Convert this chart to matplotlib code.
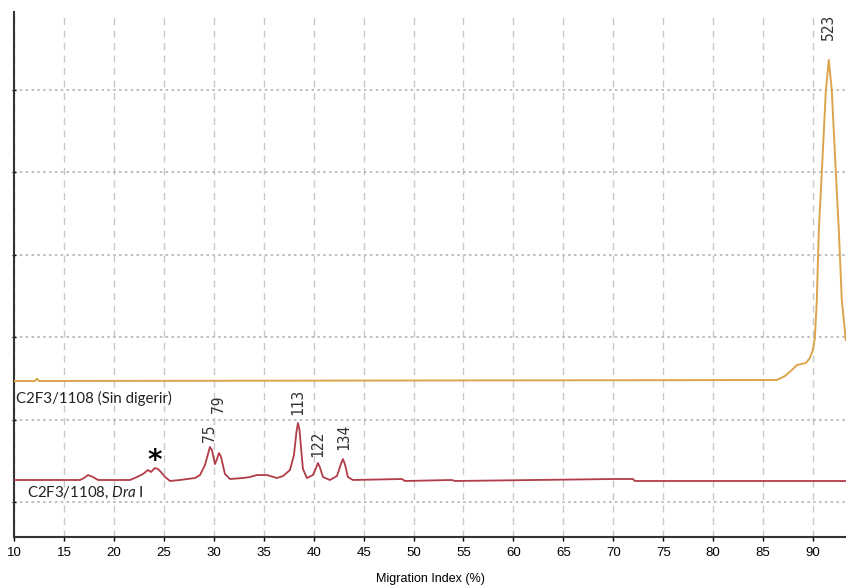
import matplotlib
matplotlib.use("Agg")
import matplotlib.pyplot as plt

# Undigested sample trace (migration index %, signal)
undigested_x = [10.0, 12.1, 12.3, 12.5, 86.38, 87.18, 87.88, 88.38, 89.28, 89.68,
                89.98, 90.18, 90.38, 90.58, 90.88, 91.28, 91.58, 91.88, 92.28,
                92.58, 92.88, 93.28]
undigested_y = [246.7, 246.7, 249.5, 246.7, 247.9, 252.7, 260.0, 266.0, 268.5, 274.5,
                284.0, 298.8, 344.8, 429.7, 500.0, 598.2, 635.8, 598.2, 500.0,
                429.7, 344.8, 296.4]

# DraI digest trace
digest_x = [10.0, 16.61, 17.01, 17.41, 17.91, 18.41, 21.61, 22.31, 22.91, 23.41,
            23.71, 24.11, 24.41, 24.71, 25.12, 25.62, 26.62, 28.12, 28.62, 29.12,
            29.42, 29.62, 29.82, 30.12, 30.32, 30.52, 30.72, 31.12, 31.62, 32.92,
            33.62, 34.32, 35.33, 36.33, 36.93, 37.63, 38.03, 38.28, 38.43, 38.58,
            38.78, 38.93, 39.33, 39.93, 40.23, 40.43, 40.63, 40.93, 41.63, 42.33,
            42.73, 42.93, 43.13, 43.43, 43.93, 48.84, 49.14, 53.84, 54.14, 70.16,
            71.96, 72.16, 93.28]
digest_y = [126.7, 126.7, 129.1, 132.7, 130.3, 126.7, 126.7, 130.3, 133.9, 138.8,
            136.4, 141.2, 140.0, 136.4, 130.3, 125.5, 126.7, 129.1, 132.7, 144.8,
            158.0, 166.7, 163.0, 146.0, 152.0, 159.4, 155.0, 134.0, 127.9, 129.1,
            130.3, 132.7, 132.7, 129.1, 131.5, 138.8, 157.0, 185.0, 195.8, 188.0,
            160.0, 140.0, 129.1, 132.7, 141.0, 147.3, 142.0, 130.3, 126.7, 131.5,
            146.0, 152.1, 146.0, 130.3, 126.7, 127.9, 125.5, 126.7, 125.5, 127.9,
            127.9, 125.5, 125.5]

# Fragment sizes (bp) and where they are written
size_labels = ["523", "75", "79", "113", "122", "134"]
size_x = [91.58, 29.62, 30.52, 38.43, 40.43, 42.98]
size_y = [660.0, 172.7, 207.9, 205.5, 154.5, 163.0]

x_ticks = list(range(10, 95, 5))
y_grid = [100, 200, 300, 400, 500, 600]

plt.rcParams["mathtext.fontset"] = "custom"
plt.rcParams["mathtext.it"] = "Lato:italic"
plt.rcParams["mathtext.rm"] = "Lato"

AXIS_FONT = ["Liberation Sans", "DejaVu Sans"]
PEAK_FONT = ["DejaVu Sans Mono", "DejaVu Sans"]


def plot_traces(output_path="out.png"):
    fig = plt.figure(figsize=(8.46, 5.86), dpi=100)
    ax = fig.add_axes([14 / 846, 49 / 586, 1 - 14 / 846, 525 / 586])

    ax.plot(undigested_x, undigested_y, color="#dca54c", linewidth=1.4, zorder=3)
    ax.plot(digest_x, digest_y, color="#b23c48", linewidth=1.3, zorder=3)

    for lab, x, y in zip(size_labels, size_x, size_y):
        ax.text(x, y, lab, rotation=90, ha="center", va="bottom",
                fontsize=10.5, family=PEAK_FONT, color="#333333")

    ax.text(24.1, 150, "*", ha="center", va="center", fontsize=20,
            fontweight="bold", color="black")

    ax.text(10.2, 226, "C2F3/1108 (Sin digerir)", ha="left", va="center",
            fontsize=10.8, family="Lato", color="#222222")
    ax.text(11.3, 111, r"C2F3/1108, $\mathit{Dra}$ I", ha="left", va="center",
            fontsize=10.8, family="Lato", color="#222222")

    ax.set_xlim(10, 93.3)
    ax.set_ylim(57.6, 694)
    ax.set_xticks(x_ticks)
    ax.set_yticks(y_grid)
    ax.set_yticklabels([])
    ax.tick_params(axis="x", length=3, width=1, pad=4, labelsize=9.5)
    ax.tick_params(axis="y", length=3, width=1, direction="inout")
    for lbl in ax.get_xticklabels():
        lbl.set_family(AXIS_FONT)

    ax.xaxis.grid(True, color="#c8c8c8", linestyle=(0, (5, 4)), linewidth=1)
    ax.yaxis.grid(True, color="#b4b4b4", linestyle=(0, (1.5, 2)), linewidth=1.2)
    ax.set_axisbelow(True)

    for side in ("top", "right"):
        ax.spines[side].set_visible(False)
    for side in ("left", "bottom"):
        ax.spines[side].set_linewidth(1.5)
        ax.spines[side].set_color("#333333")

    ax.set_xlabel("Migration Index (%)", fontsize=9, family=AXIS_FONT, labelpad=10)

    fig.savefig(output_path, dpi=100)


if __name__ == "__main__":
    plot_traces()
